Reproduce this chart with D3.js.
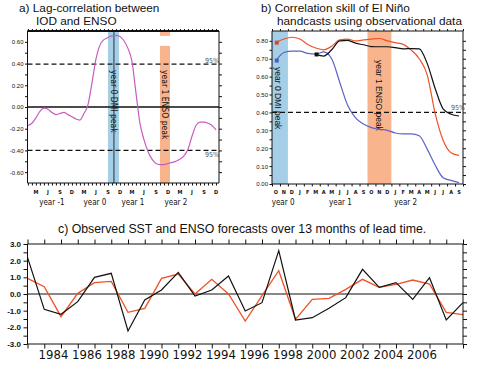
<!DOCTYPE html>
<html lang="en">
<head>
  <meta charset="UTF-8" />
  <title>IOD and ENSO</title>
  <script src="https://cdn.jsdelivr.net/npm/d3@7"></script>
  <style>
    body { margin: 0; background: #fff; }
    text { font-family: "Liberation Sans", Arial, sans-serif; fill: #111; }
    .narrow { font-family: "Liberation Sans Narrow", "Arial Narrow", "DejaVu Sans Condensed", sans-serif; }
    .axis path, .axis line { stroke: #111; }
    .axis text { font-family: "Liberation Sans Narrow", "Arial Narrow", sans-serif; }
  </style>
</head>
<body>
<script>
// ---- panel a: lag correlation IOD vs ENSO, monthly from Jan year -1 to Dec year 2
var lagCorr = [-0.17, -0.15, -0.10, -0.04, -0.01, -0.02, -0.05, -0.07, -0.06, -0.05, -0.07, -0.09,
               -0.11, -0.12, -0.06, 0.02, 0.22, 0.44, 0.57, 0.62, 0.64, 0.655, 0.66, 0.65,
               0.61, 0.54, 0.42, 0.13, -0.15, -0.30, -0.41, -0.48, -0.52, -0.53, -0.53, -0.52,
               -0.51, -0.50, -0.48, -0.45, -0.39, -0.27, -0.17, -0.14, -0.14, -0.15, -0.17, -0.21];
var monthTicksA = [2, 5, 8, 11, 14, 17, 20, 23, 26, 29, 32, 35, 38, 41, 44, 47];
var monthLabelsA = ["M", "J", "S", "D", "M", "J", "S", "D", "M", "J", "S", "D", "M", "J", "S", "D"];
var yearLabelsA = ["year -1", "year 0", "year 1", "year 2"];
var yearPosA = [6, 16.75, 26.25, 37];
var yTicksA = [-0.6, -0.4, -0.2, 0, 0.2, 0.4, 0.6];
var sigA = [0.395, -0.40];

// ---- panel b: correlation skill, monthly from Oct year 0 to Sep year 2
var skillRed = [0.79, 0.81, 0.82, 0.81, 0.78, 0.76, 0.75, 0.77, 0.805, 0.81, 0.80, 0.805,
                0.81, 0.813, 0.80, 0.79, 0.78, 0.748, 0.70, 0.61, 0.395, 0.245, 0.175, 0.16];
var skillBlue = [0.69, 0.735, 0.743, 0.742, 0.73, 0.726, 0.738, 0.70, 0.57, 0.44, 0.37, 0.335,
                 0.315, 0.306, 0.30, 0.285, 0.28, 0.28, 0.27, 0.195, 0.106, 0.035, 0.02, 0.008];
var skillBlack = [null, null, null, null, null, 0.724, 0.715, 0.75, 0.80, 0.803, 0.787, 0.778,
                  0.768, 0.767, 0.767, 0.762, 0.755, 0.757, 0.755, 0.674, 0.534, 0.42, 0.39, 0.38];
var monthLabelsB = ["O", "N", "D", "J", "F", "M", "A", "M", "J", "J", "A", "S",
                    "O", "N", "D", "J", "F", "M", "A", "M", "J", "J", "A", "S"];
var yearLabelsB = ["year 0", "year 1", "year 2"];
var yearPosB = [1.4, 8.6, 16.8];
var yTicksB = [0, 0.1, 0.2, 0.3, 0.4, 0.5, 0.6, 0.7, 0.8];

// ---- panel c: observed SST and 13-month lead forecast
var years = [1982, 1983, 1984, 1985, 1986, 1987, 1988, 1989, 1990, 1991, 1992, 1993, 1994, 1995,
             1996, 1997, 1998, 1999, 2000, 2001, 2002, 2003, 2004, 2005, 2006, 2007, 2008];
var observed = [2.2, -0.92, -1.22, -0.46, 1.0, 1.24, -2.22, -0.36, 0.24, 1.3, -0.12, 0.24, 1.08, -1.02,
                -0.52, 2.6, -1.56, -1.42, -0.86, -0.22, 1.48, 0.4, 0.68, -0.32, 0.98, -1.56, -0.52];
var forecast = [0.94, 0.44, -1.36, 0.04, 0.68, 0.76, -1.1, -0.86, 0.94, 1.2, 0.0, 0.88, 0.0, -1.62,
                -0.1, 1.4, -1.52, -0.32, -0.26, 0.28, 0.88, 0.4, 0.58, 0.84, 0.6, -1.1, -1.24];
var yearLabelsC = [1984, 1986, 1988, 1990, 1992, 1994, 1996, 1998, 2000, 2002, 2004, 2006];
var yTicksC = [-3, -2, -1, 0, 1, 2, 3];

var blueBand = "#a4cfe7", orangeBand = "#f8b48c";
var pink = "#c85cbf", red = "#f05228", blue = "#5b63c6";

var svg = d3.select("body").append("svg").attr("width", 500).attr("height", 382);

function frame(g, x, y, opts) {
  var x0 = x.range()[0], x1 = x.range()[1], y0 = y.range()[1], y1 = y.range()[0];
  g.append("line").attr("x1", x0).attr("x2", x1).attr("y1", y0).attr("y2", y0)
    .attr("stroke", "#111").attr("stroke-width", opts.topWidth || 1);
  g.append("line").attr("x1", x0).attr("x2", x1).attr("y1", y1).attr("y2", y1)
    .attr("stroke", "#111").attr("stroke-width", 1);
  g.append("line").attr("x1", x0).attr("x2", x0).attr("y1", y0).attr("y2", y1)
    .attr("stroke", "#111").attr("stroke-width", 1);
  g.append("line").attr("x1", x1).attr("x2", x1).attr("y1", y0).attr("y2", y1)
    .attr("stroke", "#111").attr("stroke-width", 1);
}

function tickAxis(g, axis, tr) {
  var a = g.append("g").attr("class", "axis").attr("transform", tr).call(axis);
  a.select(".domain").remove();
  return a;
}

// ================= panel a =================
var xa = d3.scaleLinear().domain([-0.1, 47.75]).range([27.5, 219]);
var ya = d3.scaleLinear().domain([-0.7, 0.7]).range([183, 31]);
var ga = svg.append("g");

ga.append("rect").attr("x", xa(20)).attr("width", xa(22.75) - xa(20))
  .attr("y", ya(0.7)).attr("height", ya(-0.7) - ya(0.7)).attr("fill", blueBand);
ga.append("rect").attr("x", xa(33)).attr("width", xa(35.5) - xa(33))
  .attr("y", ya(0.563)).attr("height", ya(-0.7) - ya(0.563)).attr("fill", orangeBand);
ga.append("rect").attr("x", xa(33)).attr("width", xa(35.5) - xa(33))
  .attr("y", ya(0.7)).attr("height", ya(0.655) - ya(0.7)).attr("fill", orangeBand);

ga.append("text").attr("class", "narrow").attr("font-size", 8.5)
  .attr("transform", "translate(" + (xa(21.4) - 2.5) + "," + 70 + ") rotate(90)")
  .text("year 0 DMI peak");
ga.append("text").attr("class", "narrow").attr("font-size", 8.5)
  .attr("transform", "translate(" + (xa(34.25) - 2.8) + "," + 70 + ") rotate(90)")
  .text("year 1 ENSO peak");

ga.append("line").attr("x1", xa(21.5)).attr("x2", xa(21.5)).attr("y1", ya(0.7)).attr("y2", ya(-0.7))
  .attr("stroke", "#234").attr("stroke-width", 1);

sigA.forEach(function(v) {
  ga.append("line").attr("x1", xa.range()[0]).attr("x2", xa.range()[1])
    .attr("y1", ya(v)).attr("y2", ya(v))
    .attr("stroke", "#111").attr("stroke-width", 1.3).attr("stroke-dasharray", "5,3");
});
ga.append("text").attr("class", "narrow").attr("font-size", 7).style("fill", "#555")
  .attr("x", 205).attr("y", ya(sigA[0]) - 1.5).text("95%");
ga.append("text").attr("class", "narrow").attr("font-size", 7).style("fill", "#555")
  .attr("x", 205).attr("y", ya(sigA[1]) + 7).text("95%");

ga.append("line").attr("x1", xa.range()[0]).attr("x2", xa.range()[1])
  .attr("y1", ya(0)).attr("y2", ya(0)).attr("stroke", "#111").attr("stroke-width", 1.5);

ga.append("path").datum(lagCorr)
  .attr("d", d3.line().x(function(d, i) { return xa(i); }).y(function(d) { return ya(d); })
    .curve(d3.curveMonotoneX))
  .attr("fill", "none").attr("stroke", pink).attr("stroke-width", 1.2);

frame(ga, xa, ya, { topWidth: 1.8 });

var monthsA = d3.range(0, 48);
tickAxis(ga, d3.axisBottom(xa).tickValues(monthsA).tickSize(2.5).tickFormat(""), "translate(0,183)");
tickAxis(ga, d3.axisTop(xa).tickValues(monthsA).tickSize(2).tickFormat(""), "translate(0,31)");
tickAxis(ga, d3.axisRight(ya).tickValues(d3.range(-6, 7).map(function(k) { return k / 10; }))
  .tickSize(3).tickFormat(""), "translate(219,0)");
tickAxis(ga, d3.axisLeft(ya).tickValues(d3.range(-6, 7).map(function(k) { return k / 10; }))
  .tickSize(2.5).tickFormat(""), "translate(27.5,0)");
tickAxis(ga, d3.axisLeft(ya).tickValues(yTicksA).tickSize(0).tickPadding(4)
  .tickFormat(function(d) { return d.toFixed(2); }), "translate(27.5,0)")
  .selectAll("text").attr("font-size", 6).attr("fill", "#222");

ga.selectAll(".mlab").data(monthLabelsA).enter().append("text")
  .attr("class", "narrow").attr("font-size", 5.5).attr("font-weight", "bold")
  .attr("text-anchor", "middle").attr("x", function(d, i) { return xa(monthTicksA[i]); })
  .attr("y", 194).text(function(d) { return d; });
ga.selectAll(".ylab").data(yearLabelsA).enter().append("text")
  .attr("class", "narrow").attr("font-size", 8).attr("text-anchor", "middle")
  .attr("x", function(d, i) { return xa(yearPosA[i]); }).attr("y", 205)
  .text(function(d) { return d; });

svg.append("text").attr("x", 19).attr("y", 11.8).attr("font-size", 11.8).text("a) Lag-correlation between");
svg.append("text").attr("x", 36).attr("y", 25.3).attr("font-size", 11.8).text("IOD and ENSO");

// ================= panel b =================
var xb = d3.scaleLinear().domain([0, 24]).range([272, 463]);
var yb = d3.scaleLinear().domain([0, 0.855]).range([184, 31]);
var gb = svg.append("g");

gb.append("rect").attr("x", xb(0)).attr("width", xb(2) - xb(0))
  .attr("y", yb(0.855)).attr("height", yb(0) - yb(0.855)).attr("fill", blueBand);
gb.append("rect").attr("x", xb(12)).attr("width", xb(15) - xb(12))
  .attr("y", yb(0.855)).attr("height", yb(0) - yb(0.855)).attr("fill", orangeBand);

gb.append("text").attr("font-size", 8.5)
  .attr("transform", "translate(" + (xb(0.75) - 3) + "," + 67 + ") rotate(90)")
  .text("year 0 DMI peak");
gb.append("text").attr("font-size", 8.5)
  .attr("transform", "translate(" + (xb(13.5) - 3) + "," + 60 + ") rotate(90)")
  .text("year 1 ENSO peak");

gb.append("line").attr("x1", xb.range()[0]).attr("x2", xb.range()[1])
  .attr("y1", yb(0.4)).attr("y2", yb(0.4))
  .attr("stroke", "#111").attr("stroke-width", 1.3).attr("stroke-dasharray", "5,3");
gb.append("text").attr("class", "narrow").attr("font-size", 7).style("fill", "#555")
  .attr("x", 451).attr("y", yb(0.4) - 2).text("95%");

var lineB = d3.line().defined(function(d) { return d !== null; })
  .x(function(d, i) { return xb(i + 0.5); }).y(function(d) { return yb(d); })
  .curve(d3.curveMonotoneX);
[[skillBlue, blue], [skillRed, red], [skillBlack, "#111"]].forEach(function(s) {
  gb.append("path").datum(s[0]).attr("d", lineB)
    .attr("fill", "none").attr("stroke", s[1]).attr("stroke-width", 1.2);
});
var squares = [[0, skillRed[0], "#cf4a3e"], [0, skillBlue[0], "#4a5fc2"], [5, skillBlack[5], "#111"]];
gb.selectAll(".sq").data(squares).enter().append("rect")
  .attr("x", function(d) { return xb(d[0] + 0.6) - 2; })
  .attr("y", function(d) { return yb(d[1]) - 2; })
  .attr("width", 4).attr("height", 4).attr("fill", function(d) { return d[2]; });

frame(gb, xb, yb, { topWidth: 1 });

var monthsB = d3.range(0, 25);
tickAxis(gb, d3.axisBottom(xb).tickValues(monthsB).tickSize(2.5).tickFormat(""), "translate(0,184)");
tickAxis(gb, d3.axisTop(xb).tickValues(monthsB).tickSize(2).tickFormat(""), "translate(0,31)");
var minorB = d3.range(0, 17).map(function(k) { return k / 20; });
tickAxis(gb, d3.axisRight(yb).tickValues(minorB).tickSize(3).tickFormat(""), "translate(463,0)");
tickAxis(gb, d3.axisLeft(yb).tickValues(minorB).tickSize(2.5).tickFormat(""), "translate(272,0)");
tickAxis(gb, d3.axisLeft(yb).tickValues(yTicksB).tickSize(0).tickPadding(4)
  .tickFormat(function(d) { return d.toFixed(2); }), "translate(272,0)")
  .selectAll("text").attr("font-size", 6).attr("fill", "#222");

gb.selectAll(".mlab").data(monthLabelsB).enter().append("text")
  .attr("class", "narrow").attr("font-size", 5.5).attr("font-weight", "bold")
  .attr("text-anchor", "middle").attr("x", function(d, i) { return xb(i + 0.5); })
  .attr("y", 194).text(function(d) { return d; });
gb.selectAll(".ylab").data(yearLabelsB).enter().append("text")
  .attr("class", "narrow").attr("font-size", 8).attr("text-anchor", "middle")
  .attr("x", function(d, i) { return xb(yearPosB[i]); }).attr("y", 205)
  .text(function(d) { return d; });

svg.append("text").attr("x", 261).attr("y", 11.8).attr("font-size", 11.8).text("b) Correlation skill of El Niño");
svg.append("text").attr("x", 277).attr("y", 25.3).attr("font-size", 11.8).text("handcasts using observational data");

// ================= panel c =================
var xc = d3.scaleLinear().domain([1982, 2008]).range([27.5, 463]);
var yc = d3.scaleLinear().domain([-3, 3]).range([344, 244]);
var gc = svg.append("g");

gc.append("line").attr("x1", xc.range()[0]).attr("x2", xc.range()[1])
  .attr("y1", yc(0)).attr("y2", yc(0)).attr("stroke", "#111").attr("stroke-width", 1);

var lineC = d3.line().x(function(d, i) { return xc(years[i]); }).y(function(d) { return yc(d); });
gc.append("path").datum(forecast).attr("d", lineC)
  .attr("fill", "none").attr("stroke", red).attr("stroke-width", 1.3);
gc.append("path").datum(observed).attr("d", lineC)
  .attr("fill", "none").attr("stroke", "#111").attr("stroke-width", 1.2);

frame(gc, xc, yc, { topWidth: 1 });

tickAxis(gc, d3.axisTop(xc).tickValues(years).tickSize(4.5).tickFormat(""), "translate(0,244)");
tickAxis(gc, d3.axisBottom(xc).tickValues(years).tickSize(4.5).tickFormat(""), "translate(0,344)");
var minorC = d3.range(-6, 7).map(function(k) { return k / 2; });
tickAxis(gc, d3.axisRight(yc).tickValues(minorC).tickSize(4).tickFormat(""), "translate(463,0)");
tickAxis(gc, d3.axisLeft(yc).tickValues(minorC).tickSize(4).tickFormat(""), "translate(27.5,0)");
tickAxis(gc, d3.axisLeft(yc).tickValues(yTicksC).tickSize(0).tickPadding(6.5)
  .tickFormat(function(d) { return d.toFixed(1); }), "translate(27.5,0)")
  .selectAll("text").attr("font-size", 8).attr("font-weight", "bold").attr("fill", "#222");

gc.selectAll(".xlab").data(yearLabelsC).enter().append("text")
  .attr("class", "narrow").attr("font-size", 13).attr("text-anchor", "middle")
  .attr("x", function(d) { return xc(d - 0.45); }).attr("y", 358.5)
  .text(function(d) { return d; });

svg.append("text").attr("x", 58).attr("y", 233).attr("font-size", 12.3)
  .text("c) Observed SST and ENSO forecasts over 13 months of lead time.");
</script>
</body>
</html>
